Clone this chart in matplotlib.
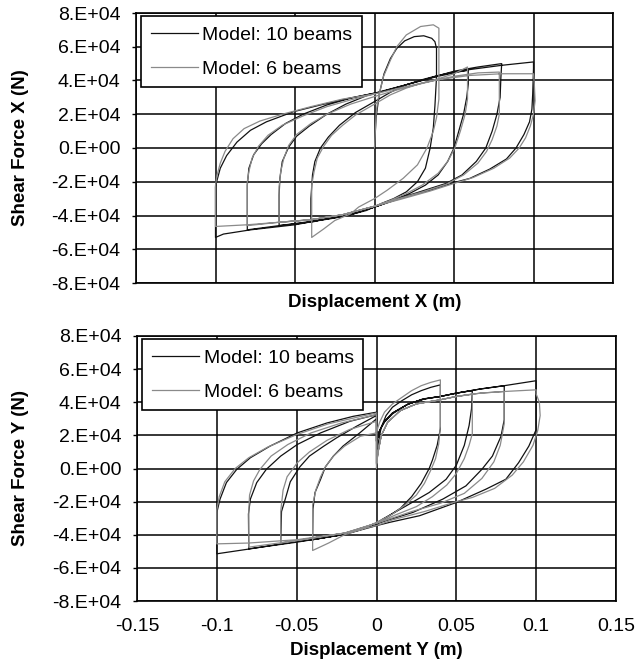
import numpy as np
import matplotlib
matplotlib.use("Agg")
import matplotlib.pyplot as plt
from matplotlib.ticker import FuncFormatter

plt.rcParams['font.family'] = ['Liberation Sans', 'DejaVu Sans']
plt.rcParams['axes.unicode_minus'] = False

# displacement (m), shear force (x 1e4 N) read off the hysteresis loops
# --- top panel: direction X ---
top_10beams = [
    (0.0, 0.0), (0.001, 1.8), (0.003, 3.2), (0.006, 4.4), (0.010, 5.3), (0.014, 5.9),
    (0.019, 6.35), (0.025, 6.6), (0.031, 6.65), (0.036, 6.5), (0.038, 6.3), (0.039, 5.9),
    (0.039, 4.2), (0.038, 2.5), (0.037, 1.2), (0.035, 0.0), (0.032, -1.2), (0.027, -2.0),
    (0.020, -2.6), (0.012, -3.0), (0.004, -3.3), (-0.005, -3.7), (-0.015, -3.95),
    (-0.025, -4.15), (-0.035, -4.3), (-0.040, -4.4),
    (-0.040, -3.0), (-0.039, -1.6), (-0.0375, -0.8), (-0.034, 0.0), (-0.029, 0.65),
    (-0.022, 1.35), (-0.012, 2.1), (0.0, 2.75), (0.010, 3.3), (0.020, 3.75), (0.030, 4.05),
    (0.040, 4.3), (0.050, 4.5), (0.059, 4.6),
    (0.059, 3.8), (0.058, 3.0), (0.056, 2.0), (0.053, 1.0), (0.050, 0.0), (0.046, -0.8),
    (0.040, -1.6), (0.032, -2.2), (0.022, -2.7), (0.010, -3.15), (0.0, -3.5),
    (-0.015, -3.95), (-0.030, -4.2), (-0.045, -4.45), (-0.060, -4.6),
    (-0.060, -2.8), (-0.0595, -1.8), (-0.058, -0.8), (-0.054, 0.05), (-0.049, 0.7),
    (-0.041, 1.3), (-0.030, 2.0), (-0.018, 2.6), (-0.005, 3.1), (0.005, 3.35), (0.020, 3.75),
    (0.035, 4.15), (0.050, 4.55), (0.065, 4.8), (0.080, 5.0),
    (0.0795, 4.2), (0.079, 3.0), (0.077, 2.0), (0.074, 1.0), (0.070, 0.0), (0.064, -0.8),
    (0.055, -1.6), (0.045, -2.1), (0.030, -2.55), (0.015, -3.0), (0.0, -3.5),
    (-0.020, -4.05), (-0.040, -4.35), (-0.060, -4.6), (-0.080, -4.85),
    (-0.080, -2.2), (-0.079, -1.2), (-0.076, -0.4), (-0.071, 0.25), (-0.065, 0.8),
    (-0.056, 1.45), (-0.045, 2.0), (-0.030, 2.55), (-0.015, 2.95), (0.0, 3.25), (0.020, 3.75),
    (0.040, 4.25), (0.060, 4.65), (0.080, 4.9), (0.100, 5.1),
    (0.100, 4.7), (0.0995, 3.2), (0.099, 2.3), (0.0975, 1.55), (0.094, 0.8), (0.089, 0.0),
    (0.083, -0.65), (0.0725, -1.25), (0.060, -1.8), (0.050, -2.05), (0.035, -2.5),
    (0.016, -3.0), (0.0, -3.5), (-0.015, -3.95), (-0.030, -4.2), (-0.050, -4.55),
    (-0.078, -4.85), (-0.095, -5.1), (-0.100, -5.3),
    (-0.100, -2.3), (-0.099, -1.9), (-0.097, -1.2), (-0.093, -0.45), (-0.0865, 0.35),
    (-0.078, 1.05), (-0.068, 1.55), (-0.051, 2.15), (-0.034, 2.55), (-0.016, 2.95), (0.0, 3.25),
]
top_6beams = [
    (0.0, 0.0), (0.0005, 1.0), (0.001, 2.0), (0.002, 2.8), (0.0055, 4.2), (0.010, 5.2),
    (0.014, 6.0), (0.020, 6.7), (0.029, 7.2), (0.037, 7.3), (0.0405, 7.1),
    (0.0405, 2.9), (0.039, 1.8), (0.037, 1.0), (0.033, 0.0), (0.027, -1.0), (0.018, -1.8),
    (0.008, -2.5), (0.0, -3.0), (-0.010, -3.5), (-0.015, -3.9), (-0.025, -4.3),
    (-0.032, -4.8), (-0.0395, -5.3),
    (-0.0395, -2.2), (-0.038, -1.4), (-0.036, -0.6), (-0.032, 0.1), (-0.027, 0.75),
    (-0.020, 1.35), (-0.012, 1.95), (0.0, 2.6), (0.010, 3.15), (0.020, 3.55), (0.030, 3.85),
    (0.040, 4.1), (0.050, 4.4), (0.0585, 4.8),
    (0.0585, 2.9), (0.057, 2.0), (0.054, 1.0), (0.0505, 0.0), (0.046, -0.8), (0.040, -1.5),
    (0.030, -2.2), (0.020, -2.7), (0.010, -3.1), (0.0, -3.45), (-0.020, -3.95),
    (-0.040, -4.25), (-0.060, -4.4),
    (-0.060, -2.3), (-0.059, -1.4), (-0.057, -0.6), (-0.054, 0.15), (-0.049, 0.8),
    (-0.040, 1.45), (-0.030, 2.0), (-0.015, 2.6), (0.0, 3.05), (0.020, 3.6), (0.040, 4.05),
    (0.050, 4.25), (0.065, 4.45), (0.0785, 4.5),
    (0.0785, 2.0), (0.077, 1.3), (0.074, 0.5), (0.0705, -0.2), (0.065, -0.9), (0.056, -1.6),
    (0.045, -2.15), (0.030, -2.6), (0.015, -3.0), (0.0, -3.45), (-0.020, -3.95),
    (-0.040, -4.25), (-0.060, -4.4), (-0.080, -4.6),
    (-0.080, -2.0), (-0.079, -1.4), (-0.077, -0.6), (-0.073, 0.1), (-0.067, 0.75),
    (-0.058, 1.35), (-0.045, 1.9), (-0.030, 2.45), (-0.015, 2.85), (0.0, 3.2), (0.020, 3.65),
    (0.040, 4.05), (0.060, 4.3), (0.080, 4.4), (0.100, 4.4),
    (0.1005, 3.8), (0.101, 2.8), (0.100, 2.0), (0.098, 1.3), (0.095, 0.6), (0.091, 0.0),
    (0.085, -0.6), (0.075, -1.2), (0.062, -1.75), (0.050, -2.1), (0.035, -2.55),
    (0.016, -3.05), (0.0, -3.45), (-0.020, -3.95), (-0.040, -4.25), (-0.060, -4.4),
    (-0.080, -4.55), (-0.100, -4.65),
    (-0.100, -2.2), (-0.099, -1.6), (-0.097, -0.9), (-0.094, -0.2), (-0.089, 0.55),
    (-0.082, 1.15), (-0.072, 1.6), (-0.058, 2.0), (-0.040, 2.45), (-0.020, 2.9), (0.0, 3.2),
]

# --- bottom panel: direction Y ---
bot_10beams = [
    (0.0, 0.0), (0.001, 1.5), (0.003, 2.5), (0.006, 3.2), (0.010, 3.7), (0.016, 4.1),
    (0.022, 4.45), (0.028, 4.7), (0.034, 4.9), (0.040, 5.05),
    (0.040, 2.4), (0.038, 1.4), (0.035, 0.5), (0.033, 0.0), (0.028, -0.9), (0.022, -1.7),
    (0.015, -2.4), (0.008, -2.85), (0.0, -3.3), (-0.012, -3.75), (-0.025, -4.05),
    (-0.040, -4.3),
    (-0.0398, -2.45), (-0.0385, -1.45), (-0.035, -0.65), (-0.032, 0.1), (-0.027, 0.75),
    (-0.021, 1.35), (-0.0105, 2.15), (0.0, 3.0),
    (0.0, 1.65), (0.002, 2.3), (0.005, 2.8), (0.010, 3.3), (0.019, 3.85), (0.029, 4.2),
    (0.040, 4.35), (0.050, 4.55), (0.060, 4.7),
    (0.0595, 3.6), (0.058, 2.6), (0.055, 1.4), (0.050, 0.2), (0.0436, -0.65), (0.033, -1.45),
    (0.0187, -2.25), (0.004, -3.05), (0.0, -3.3), (-0.020, -3.95), (-0.040, -4.3),
    (-0.060, -4.5),
    (-0.0595, -2.6), (-0.057, -1.8), (-0.054, -0.8), (-0.048, 0.1), (-0.042, 0.75),
    (-0.033, 1.35), (-0.025, 1.85), (-0.0125, 2.55), (0.0, 3.2),
    (0.0, 1.65), (0.002, 2.3), (0.005, 2.85), (0.010, 3.35), (0.020, 3.9), (0.030, 4.2),
    (0.040, 4.35), (0.050, 4.55), (0.065, 4.8), (0.080, 5.0),
    (0.080, 2.95), (0.078, 1.95), (0.0726, 0.75), (0.066, -0.05), (0.056, -1.05),
    (0.0415, -1.85), (0.0228, -2.65), (0.006, -3.15), (0.0, -3.35), (-0.021, -4.0),
    (-0.050, -4.45), (-0.080, -4.85),
    (-0.0802, -2.75), (-0.079, -1.85), (-0.075, -0.85), (-0.069, -0.05), (-0.060, 0.75),
    (-0.0496, 1.45), (-0.035, 2.15), (-0.0167, 2.85), (0.0, 3.25),
    (0.0, 1.65), (0.002, 2.3), (0.005, 2.85), (0.010, 3.35), (0.020, 3.9), (0.030, 4.2),
    (0.040, 4.35), (0.050, 4.55), (0.065, 4.8), (0.080, 5.0), (0.100, 5.3),
    (0.100, 2.35), (0.0954, 1.35), (0.089, 0.35), (0.081, -0.65), (0.0685, -1.25),
    (0.050, -2.05), (0.027, -2.85), (0.0083, -3.25), (0.0, -3.45), (-0.0208, -4.0),
    (-0.0496, -4.4), (-0.079, -4.85), (-0.100, -5.15),
    (-0.100, -2.65), (-0.098, -1.85), (-0.094, -0.85), (-0.0875, -0.05), (-0.079, 0.65),
    (-0.0667, 1.35), (-0.0496, 2.15), (-0.031, 2.75), (-0.0146, 3.15), (0.0, 3.4),
]
bot_6beams = [
    (0.0, 0.0), (0.0, 2.2), (0.002, 2.8), (0.005, 3.4), (0.010, 3.9), (0.016, 4.3),
    (0.022, 4.7), (0.028, 5.0), (0.034, 5.2), (0.040, 5.35),
    (0.040, 2.55), (0.039, 1.5), (0.037, 0.6), (0.034, -0.1), (0.030, -0.9), (0.025, -1.6),
    (0.018, -2.2), (0.010, -2.75), (0.0, -3.25), (-0.010, -3.7), (-0.020, -4.0),
    (-0.030, -4.5), (-0.040, -4.95),
    (-0.040, -2.2), (-0.038, -1.3), (-0.035, -0.5), (-0.032, 0.1), (-0.027, 0.75),
    (-0.020, 1.35), (-0.010, 1.95), (0.0, 2.15),
    (0.0, 0.2), (0.001, 1.0), (0.003, 2.0), (0.007, 2.8), (0.015, 3.5), (0.025, 3.9),
    (0.040, 4.15), (0.050, 4.35), (0.060, 4.5),
    (0.060, 2.1), (0.058, 1.4), (0.055, 0.6), (0.050, -0.3), (0.044, -1.0), (0.035, -1.7),
    (0.025, -2.3), (0.012, -2.8), (0.0, -3.3), (-0.020, -3.9), (-0.040, -4.2),
    (-0.060, -4.5),
    (-0.060, -2.6), (-0.0585, -1.3), (-0.056, -0.5), (-0.0496, 0.35), (-0.042, 1.0),
    (-0.031, 1.7), (-0.017, 2.35), (0.0, 2.85),
    (0.0, 0.3), (0.001, 1.0), (0.003, 2.0), (0.007, 2.8), (0.015, 3.5), (0.025, 3.9),
    (0.040, 4.15), (0.050, 4.35), (0.065, 4.55), (0.080, 4.65),
    (0.080, 2.7), (0.0775, 1.4), (0.0735, 0.4), (0.066, -0.6), (0.055, -1.5), (0.040, -2.1),
    (0.022, -2.6), (0.005, -3.15), (0.0, -3.3), (-0.020, -3.9), (-0.050, -4.35),
    (-0.080, -4.75),
    (-0.080, -2.6), (-0.0795, -1.6), (-0.077, -0.75), (-0.073, -0.05), (-0.066, 0.75),
    (-0.0555, 1.45), (-0.041, 2.15), (-0.022, 2.75), (0.0, 3.25),
    (0.0, 0.3), (0.001, 1.0), (0.003, 2.0), (0.007, 2.8), (0.015, 3.5), (0.025, 3.9),
    (0.040, 4.15), (0.050, 4.35), (0.065, 4.55), (0.080, 4.65), (0.100, 4.75),
    (0.100, 4.5), (0.102, 4.0), (0.1025, 3.2), (0.101, 2.3), (0.098, 1.4), (0.092, 0.4),
    (0.085, -0.4), (0.074, -1.2), (0.060, -1.75), (0.050, -2.0), (0.030, -2.6),
    (0.010, -3.1), (0.0, -3.45), (-0.020, -3.9), (-0.050, -4.3), (-0.080, -4.5),
    (-0.100, -4.55),
    (-0.100, -2.5), (-0.0985, -1.7), (-0.095, -0.8), (-0.0885, 0.0), (-0.080, 0.65),
    (-0.068, 1.3), (-0.050, 2.05), (-0.030, 2.7), (-0.012, 3.1), (0.0, 3.35),
]

x_ticks = [-0.15, -0.1, -0.05, 0, 0.05, 0.1, 0.15]
y_ticks = [-8e4, -6e4, -4e4, -2e4, 0, 2e4, 4e4, 6e4, 8e4]
series_names = ['Model: 10 beams', 'Model: 6 beams']
series_colors = ['#111111', '#8a8a8a']


def excel_sci(v, pos):
    if v == 0:
        return '0.E+00'
    e = int(np.floor(np.log10(abs(v))))
    m = v / 10 ** e
    return f"{m:.0f}.E{e:+03d}"


def draw_panel(ax, curves, xlabel, ylabel, show_xticks):
    for pts, name, col in zip(curves, series_names, series_colors):
        arr = np.array(pts)
        ax.plot(arr[:, 0], arr[:, 1] * 1e4, color=col, lw=0.9, label=name, zorder=3)
    ax.set_xlim(-0.15, 0.15)
    ax.set_ylim(-8e4, 8e4)
    ax.set_xticks(x_ticks)
    ax.set_yticks(y_ticks)
    ax.yaxis.set_major_formatter(FuncFormatter(excel_sci))
    ax.xaxis.set_major_formatter(FuncFormatter(lambda v, p: f"{v:g}"))
    ax.grid(True, color='black', lw=1.1, zorder=1)
    for s in ax.spines.values():
        s.set_linewidth(1.2)
    ax.tick_params(axis='y', length=3, width=1, pad=8, labelsize=14)
    ax.tick_params(axis='x', length=0, pad=12, labelsize=14, labelbottom=show_xticks)
    ax.set_xlabel(xlabel, fontsize=13.5, fontweight='bold')
    ax.set_ylabel(ylabel, fontsize=13.5, fontweight='bold')
    leg = ax.legend(loc='upper left', bbox_to_anchor=(0.011, 0.988), fontsize=14,
                    frameon=True, fancybox=False, framealpha=1, edgecolor='black',
                    borderpad=0.5, labelspacing=0.85, handlelength=2.4,
                    handletextpad=0.25, borderaxespad=0)
    leg.get_frame().set_linewidth(1.2)


fig = plt.figure(figsize=(6.36, 6.65), dpi=100)
ax1 = fig.add_axes([136 / 636, 1 - 283 / 665, 477 / 636, 270 / 665])
ax2 = fig.add_axes([137 / 636, 1 - 601 / 665, 479 / 636, 265 / 665])

draw_panel(ax1, [top_10beams, top_6beams], 'Displacement X (m)', 'Shear Force X (N)', False)
draw_panel(ax2, [bot_10beams, bot_6beams], 'Displacement Y (m)', 'Shear Force Y (N)', True)

ax1.xaxis.set_label_coords(0.5, -0.04)
ax2.xaxis.set_label_coords(0.5, -0.155)
ax1.yaxis.set_label_coords(-0.225, 0.5)
ax2.yaxis.set_label_coords(-0.226, 0.5)

fig.savefig('out.png', dpi=100)
